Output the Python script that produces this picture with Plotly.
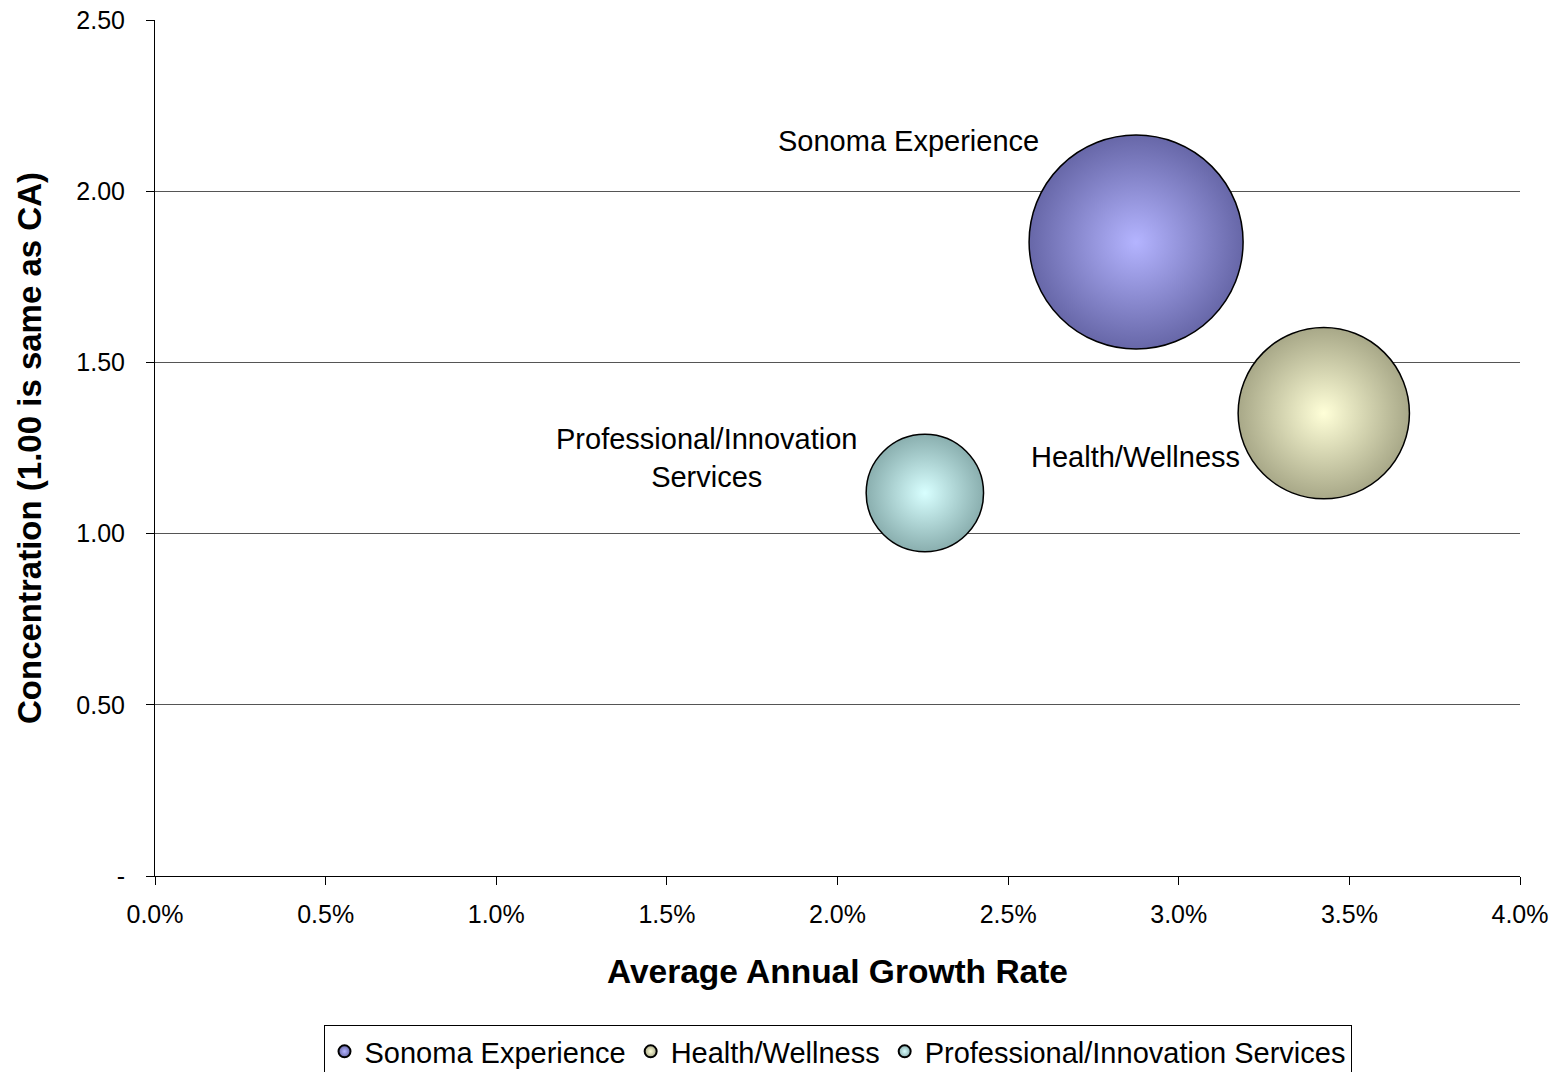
import plotly.graph_objects as go

# ---- data ----
clusters = ["Sonoma Experience", "Health/Wellness", "Professional/Innovation Services"]
growth_rate = [0.02875, 0.03425, 0.02256]          # average annual growth rate
concentration = [1.852, 1.352, 1.119]               # location quotient (1.00 = CA)
bubble_size = [46.2, 29.6, 13.9]                    # relative cluster size
label_text = ["Sonoma Experience", "Health/Wellness", "Professional/Innovation<br>Services"]
label_x = [0.02207, 0.02872, 0.01615]
label_y = [2.147, 1.224, 1.221]

x_tickvals = [0, 0.005, 0.01, 0.015, 0.02, 0.025, 0.03, 0.035, 0.04]
x_ticktext = ["0.0%", "0.5%", "1.0%", "1.5%", "2.0%", "2.5%", "3.0%", "3.5%", "4.0%"]
y_tickvals = [0, 0.5, 1.0, 1.5, 2.0, 2.5]
y_ticktext = ["-", "0.50", "1.00", "1.50", "2.00", "2.50"]

center_colors = ["#B4B4FF", "#FFFFD8", "#D8FFFF"]
edge_colors = ["#6767A8", "#A8A888", "#8AAFAF"]

FONT = "Arial, Liberation Sans, sans-serif"
max_diam = 214
sizeref = 2 * max(bubble_size) / (max_diam ** 2)

fig = go.Figure()
for i, name in enumerate(clusters):
    fig.add_trace(go.Scatter(
        x=[growth_rate[i]], y=[concentration[i]],
        mode="markers", name=name,
        marker=dict(
            size=[bubble_size[i]], sizemode="area", sizeref=sizeref,
            color=edge_colors[i],
            gradient=dict(type="radial", color=center_colors[i]),
            line=dict(color="#000000", width=1.5),
            opacity=1,
        ),
        hoverinfo="name",
    ))

for t, lx, ly in zip(label_text, label_x, label_y):
    fig.add_annotation(x=lx, y=ly, xref="x", yref="y", text=t, showarrow=False,
                       font=dict(family=FONT, size=29, color="#000000"),
                       xanchor="center", yanchor="middle", align="center")

fig.update_layout(
    width=1558, height=1072,
    margin=dict(l=147, r=46, t=12, b=204, autoexpand=False),
    paper_bgcolor="white", plot_bgcolor="white",
    font=dict(family=FONT, color="#000000"),
    showlegend=True,
    legend=dict(
        orientation="h", x=0.5, xanchor="center",
        yref="container", y=0.0513, yanchor="top",
        bordercolor="#000000", borderwidth=1,
        font=dict(family=FONT, size=29, color="#000000"),
        itemsizing="constant", itemwidth=30, tracegroupgap=0,
    ),
    xaxis=dict(
        range=[0, 0.04], tickvals=x_tickvals, ticktext=x_ticktext,
        showgrid=False, zeroline=False, automargin=False,
        showline=True, linecolor="#000000", linewidth=1,
        ticks="outside", ticklen=8, tickcolor="#000000",
        ticklabelstandoff=8, ticklabeloverflow="allow",
        tickfont=dict(family=FONT, size=25, color="#000000"),
        title=dict(text="<b>Average Annual Growth Rate</b>", standoff=32,
                   font=dict(family=FONT, size=33.5, color="#000000")),
    ),
    yaxis=dict(
        range=[0, 2.5006], tickvals=y_tickvals, ticktext=y_ticktext,
        showgrid=True, gridcolor="#555555", gridwidth=1, zeroline=False,
        automargin=False,
        showline=True, linecolor="#000000", linewidth=1,
        ticks="outside", ticklen=8, tickcolor="#000000",
        ticklabelstandoff=16, ticklabeloverflow="allow",
        tickfont=dict(family=FONT, size=25, color="#000000"),
        title=dict(text="<b>Concentration (1.00 is same as CA)</b>", standoff=24,
                   font=dict(family=FONT, size=33, color="#000000")),
    ),
)

fig.write_html("out.html")
